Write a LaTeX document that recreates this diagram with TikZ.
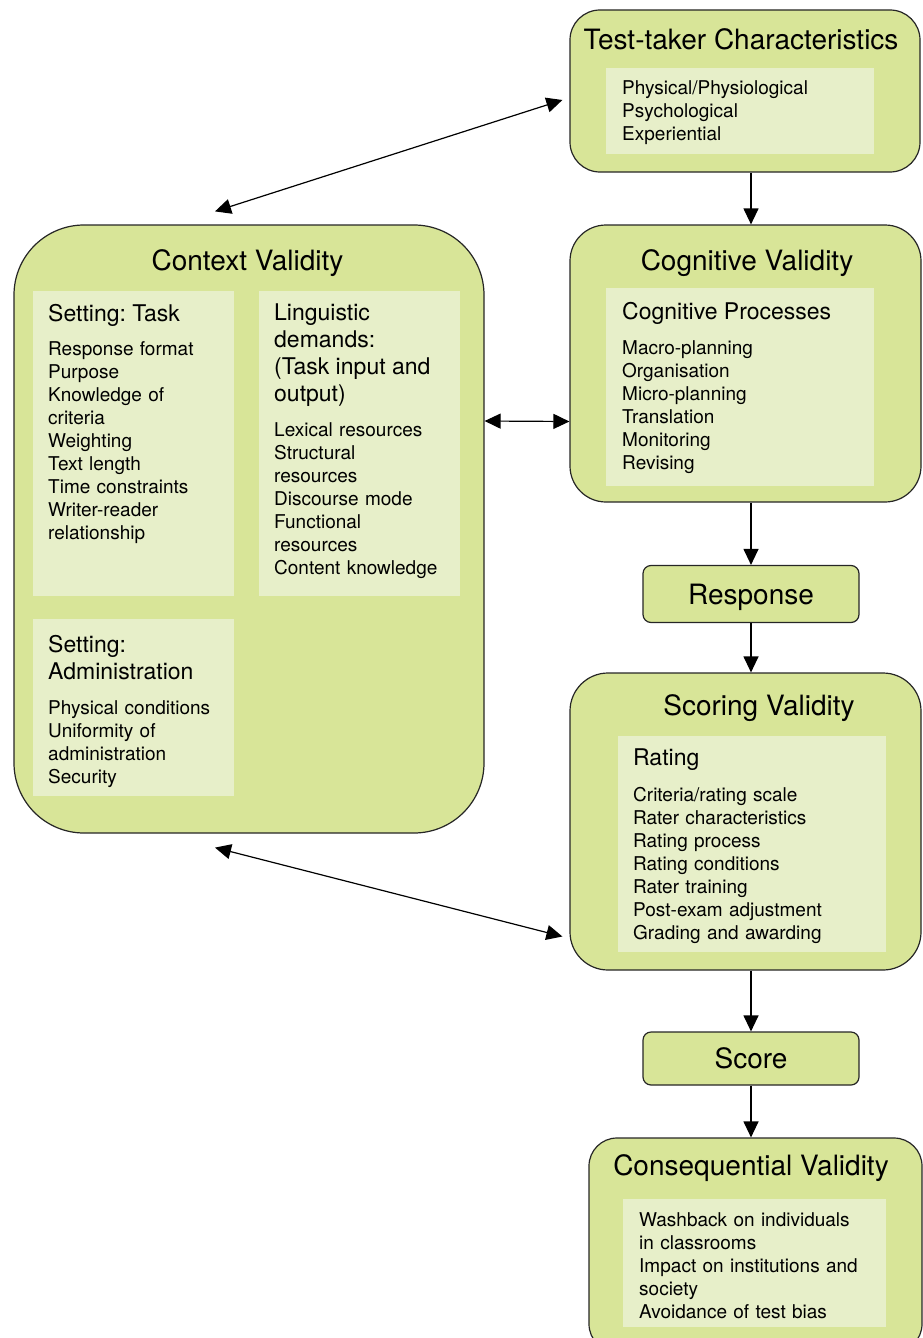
\documentclass[tikz,border=0pt]{standalone}
\usepackage{fontspec}
\setmainfont{TeX Gyre Heros}
\usepackage{xcolor}
\usepackage{tikz}
\usetikzlibrary{arrows.meta,positioning,calc}
\definecolor{boxgreen}{RGB}{216,229,152}
\definecolor{panelgreen}{RGB}{231,239,201}
\setlength{\parindent}{0pt}
\frenchspacing
\newcommand{\ttlfont}{\fontsize{28pt}{32pt}\selectfont}
\newcommand{\hdfont}{\fontsize{23pt}{27pt}\selectfont}
\newcommand{\itmfont}{\fontsize{19pt}{23pt}\selectfont}
\tikzset{
  valbox/.style    = {rectangle, draw=black!85, fill=boxgreen, line width=1.2pt, inner sep=0pt},
  panel/.style     = {rectangle, fill=panelgreen, inner sep=0pt, anchor=north west},
  paneltxt/.style  = {anchor=north west, inner sep=0pt, align=left, font=\itmfont, text width=#1},
  paneltxt/.default = 186pt,
  boxtitle/.style  = {anchor=base, inner sep=0pt, font=\ttlfont},
  flow/.style      = {-{Triangle[length=16pt,width=15pt]}, line width=1.2pt},
  twoway/.style    = {{Triangle[length=16pt,width=15pt]}-{Triangle[length=16pt,width=15pt]}, line width=1.2pt},
}

\begin{document}
\begin{tikzpicture}[x=1pt, y=-1pt]
  \useasboundingbox (0,0) rectangle (922,1338);

  % outer boxes
  \node[valbox, rounded corners=30pt, minimum width=350pt, minimum height=162pt] (tt)  at (745,91)     {};
  \node[valbox, rounded corners=70pt, minimum width=470pt, minimum height=608pt] (ctx) at (249,529)    {};
  \node[valbox, rounded corners=36pt, minimum width=351pt, minimum height=277pt] (cog) at (745.5,363.5) {};
  \node[valbox, rounded corners=38pt, minimum width=351pt, minimum height=297pt] (sv)  at (745.5,821.5) {};
  \node[valbox, rounded corners=28pt, minimum width=333pt, minimum height=214pt] (cons) at (755.5,1245) {};

  \node[valbox, rounded corners=8pt, minimum width=216pt, minimum height=57pt,
        font=\ttlfont, text height=20pt, text depth=0pt] (resp)  at (751,594)    {Response};
  \node[valbox, rounded corners=8pt, minimum width=216pt, minimum height=53pt,
        font=\ttlfont, text height=20pt, text depth=0pt] (score) at (751,1058.5) {Score};

  % titles
  \node[boxtitle] (tttitle)   at (741,49.3)  {Test-taker Characteristics};
  \node[boxtitle] (ctxtitle)  at (247.5,270.7) {Context Validity};
  \node[boxtitle] (cogtitle)  at (747,270)   {Cognitive Validity};
  \node[boxtitle] (svtitle)   at (759,715)   {Scoring Validity};
  \node[boxtitle] (constitle) at (751,1175.7) {Consequential Validity};

  % inner panels
  \node[panel, minimum width=268pt, minimum height=86pt]  (ttpanel)    at (606,68)   {};
  \node[panel, minimum width=201pt, minimum height=305pt] (taskpanel)  at (33,291)   {};
  \node[panel, minimum width=201pt, minimum height=305pt] (lingpanel)  at (259,291)  {};
  \node[panel, minimum width=201pt, minimum height=177pt] (adminpanel) at (33,619)   {};
  \node[panel, minimum width=268pt, minimum height=198pt] (cogpanel)   at (606,288)  {};
  \node[panel, minimum width=268pt, minimum height=216pt] (svpanel)    at (618,736)  {};
  \node[panel, minimum width=263pt, minimum height=128pt] (conspanel)  at (623,1199) {};

  % panel texts
  \node[paneltxt=250pt] (ttlist) at (622,80)
    {Physical/Physiological\\Psychological\\Experiential};
  \node[paneltxt] (tasklist) at (48,304)
    {{\hdfont Setting: Task\par}\vspace{11.5pt}Response format\\Purpose\\Knowledge of\\criteria\\Weighting\\Text length\\Time constraints\\Writer-reader\\relationship};
  \node[paneltxt] (linglist) at (274,304)
    {{\hdfont Linguistic\\demands:\\(Task input and\\output)\par}\vspace{11.5pt}Lexical resources\\Structural\\resources\\Discourse mode\\Functional\\resources\\Content knowledge};
  \node[paneltxt] (adminlist) at (48,635.5)
    {{\hdfont Setting:\\Administration\par}\vspace{11.5pt}Physical conditions\\Uniformity of\\administration\\Security};
  \node[paneltxt=250pt] (coglist) at (622,302)
    {{\hdfont Cognitive Processes\par}\vspace{12.5pt}Macro-planning\\Organisation\\Micro-planning\\Translation\\Monitoring\\Revising};
  \node[paneltxt=250pt] (svlist) at (633,749)
    {{\hdfont Rating\par}\vspace{12.5pt}Criteria/rating scale\\Rater characteristics\\Rating process\\Rating conditions\\Rater training\\Post-exam adjustment\\Grading and awarding};
  \node[paneltxt=245pt] (conslist) at (639,1212)
    {Washback on individuals\\in classrooms\\Impact on institutions and\\society\\Avoidance of test bias};

  % main flow down the right column
  \draw[flow] (tt.south -| resp.north)   -- (cog.north -| resp.north);
  \draw[flow] (cog.south -| resp.north)  -- (resp.north);
  \draw[flow] (resp.south)               -- (sv.north -| resp.south);
  \draw[flow] (sv.south -| score.north)  -- (score.north);
  \draw[flow] (score.south)              -- (cons.north -| score.south);

  % links to context validity
  \draw[twoway] ([xshift=-34pt,yshift=13pt]ctx.north)  -- ([xshift=-7pt,yshift=-9pt]tt.west);
  \draw[twoway] ([yshift=108pt]ctx.east)                -- ([yshift=-58pt]cog.west);
  \draw[twoway] ([xshift=-34pt,yshift=-14pt]ctx.south) -- ([xshift=-7pt,yshift=-115pt]sv.west);
\end{tikzpicture}
\end{document}
